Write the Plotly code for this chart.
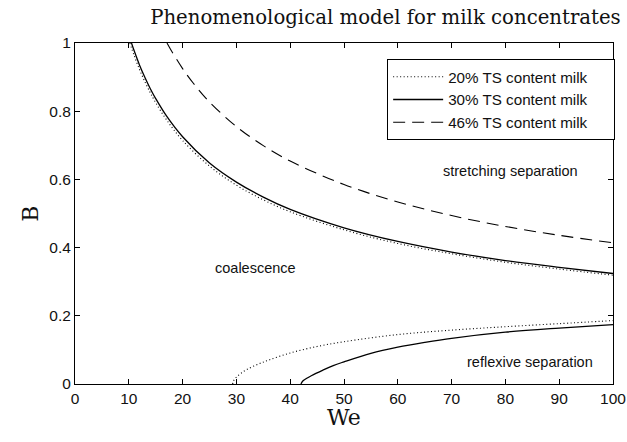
import plotly.graph_objects as go

# Upper boundaries (stretching separation)
we_up_20 = [10.2, 11, 12, 13, 14, 15, 17, 20, 25, 30, 35, 40, 50, 60, 70, 80, 90, 100]
b_up_20 = [1.0, 0.963, 0.922, 0.886, 0.854, 0.825, 0.775, 0.714, 0.639, 0.583, 0.540, 0.505, 0.452, 0.412, 0.382, 0.357, 0.337, 0.319]

we_up_30 = [10.5, 11, 12, 13, 14, 15, 17, 20, 25, 30, 35, 40, 50, 60, 70, 80, 90, 100]
b_up_30 = [1.0, 0.977, 0.935, 0.899, 0.866, 0.837, 0.786, 0.725, 0.648, 0.592, 0.548, 0.512, 0.458, 0.418, 0.387, 0.362, 0.342, 0.324]

we_up_46 = [17.1, 18, 20, 22, 25, 30, 35, 40, 50, 60, 70, 80, 90, 100]
b_up_46 = [1.0, 0.975, 0.925, 0.882, 0.827, 0.755, 0.699, 0.654, 0.585, 0.534, 0.494, 0.462, 0.436, 0.414]

# Lower boundaries (reflexive separation)
we_lo_20 = [29.3, 29.5, 30, 31, 32, 34, 36, 40, 45, 50, 60, 70, 80, 90, 100]
b_lo_20 = [0.0, 0.010, 0.020, 0.033, 0.043, 0.058, 0.070, 0.091, 0.110, 0.124, 0.145, 0.158, 0.168, 0.177, 0.186]

we_lo_30 = [42, 42.3, 43, 44, 46, 48, 50, 55, 60, 65, 70, 80, 90, 100]
b_lo_30 = [0.0, 0.008, 0.016, 0.025, 0.040, 0.054, 0.065, 0.090, 0.108, 0.122, 0.134, 0.152, 0.164, 0.174]

x_ticks = [0, 10, 20, 30, 40, 50, 60, 70, 80, 90, 100]
y_ticks = [0, 0.2, 0.4, 0.6, 0.8, 1]

labels = ["20% TS content milk", "30% TS content milk", "46% TS content milk"]
region_text = ["stretching separation", "coalescence", "reflexive separation"]
region_x = [80.9, 33.5, 84.6]
region_y = [0.625, 0.34, 0.065]

SANS = "Liberation Sans, Arial, sans-serif"
SERIF = "DejaVu Serif, serif"
black = "black"
dot = "1px,2.5px"
pad = "\u00a0\u00a0\u00a0\u00a0\u00a0"

fig = go.Figure()
fig.add_trace(go.Scatter(x=we_up_20, y=b_up_20, mode="lines", name=labels[0] + pad,
                         line=dict(color=black, width=1.1, dash=dot, shape="spline"), legendgroup="a"))
fig.add_trace(go.Scatter(x=we_up_30, y=b_up_30, mode="lines", name=labels[1] + pad,
                         line=dict(color=black, width=1.3, shape="spline"), legendgroup="b"))
fig.add_trace(go.Scatter(x=we_up_46, y=b_up_46, mode="lines", name=labels[2] + pad,
                         line=dict(color=black, width=1.1, dash="12px,7px", shape="spline"), legendgroup="c"))
fig.add_trace(go.Scatter(x=we_lo_20, y=b_lo_20, mode="lines", showlegend=False,
                         line=dict(color=black, width=1.1, dash=dot, shape="spline"), legendgroup="a"))
fig.add_trace(go.Scatter(x=we_lo_30, y=b_lo_30, mode="lines", showlegend=False,
                         line=dict(color=black, width=1.3, shape="spline"), legendgroup="b"))

for t, xx, yy in zip(region_text, region_x, region_y):
    fig.add_annotation(x=xx, y=yy, text=t, showarrow=False,
                       font=dict(family=SANS, size=14.5, color="#111"))

# axis titles
fig.add_annotation(x=0.5, y=-0.099, xref="paper", yref="paper", text="We", showarrow=False,
                   xanchor="center", yanchor="middle", font=dict(family=SERIF, size=22, color="#111"))
fig.add_annotation(x=-0.083, y=0.5, xref="paper", yref="paper", text="B", showarrow=False,
                   textangle=-90, xanchor="center", yanchor="middle",
                   font=dict(family=SERIF, size=22, color="#111"))

axis_common = dict(showline=True, linecolor=black, linewidth=1, mirror="ticks",
                   ticks="inside", ticklen=5, tickcolor=black, showgrid=False, zeroline=False,
                   automargin=False,
                   tickfont=dict(family=SANS, size=15.5, color="#111"))

fig.update_layout(
    width=627, height=442,
    margin=dict(l=75, r=14, t=43, b=58),
    paper_bgcolor="white", plot_bgcolor="white",
    title=dict(text="Phenomenological model for milk concentrates", x=0.99, xref="container",
               xanchor="right", y=0.962, yanchor="middle",
               font=dict(family=SERIF, size=19.7, color="#111")),
    xaxis=dict(range=[0, 100], tickvals=x_ticks, **axis_common),
    yaxis=dict(range=[0, 1], tickvals=y_ticks, **axis_common),
    legend=dict(x=1.004, y=0.952, xanchor="right", yanchor="top", bordercolor=black, borderwidth=1,
                bgcolor="white", tracegroupgap=0, itemwidth=50,
                font=dict(family=SANS, size=15.2, color="#111")),
)

fig.write_html("out.html", config={"displayModeBar": False},
               post_script="document.body.style.margin='0';document.body.style.overflow='hidden';")
